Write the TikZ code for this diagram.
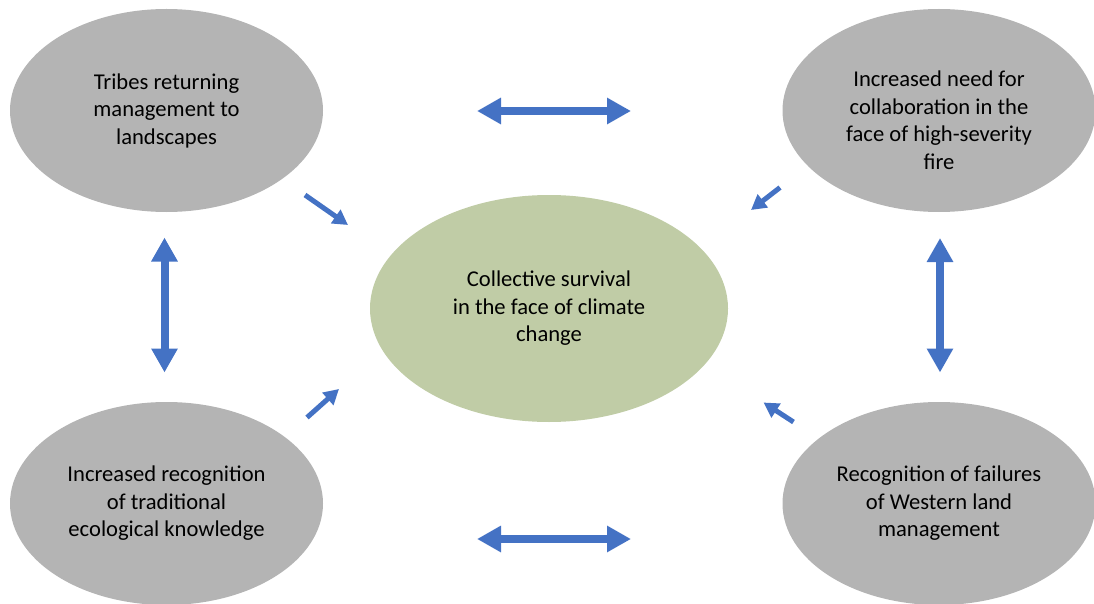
\documentclass[tikz,border=0pt]{standalone}
\usepackage{fontspec}
\setmainfont{Carlito}
\usetikzlibrary{shapes.geometric,arrows.meta}
\definecolor{bubblegray}{RGB}{180,180,180}
\definecolor{coregreen}{RGB}{192,204,166}
\definecolor{arrowblue}{RGB}{68,114,196}

\begin{document}
\begin{tikzpicture}[x=1pt, y=-1pt,
  bubble/.style={ellipse, fill=bubblegray, minimum width=313pt, minimum height=203pt, inner sep=0pt, align=center, font=\fontsize{22.6}{27.5}\selectfont},
  core/.style={ellipse, fill=coregreen, minimum width=358pt, minimum height=227pt, inner sep=0pt, align=center, font=\fontsize{22.6}{27.5}\selectfont},
  txt/.style={align=center, inner sep=0pt, font=\fontsize{22.6}{27.5}\selectfont},
  link/.style={draw=arrowblue, line width=8pt, {Triangle[width=25pt,length=24pt]}-{Triangle[width=25pt,length=24pt]}},
  feed/.style={draw=arrowblue, line width=5pt, -{Triangle[width=16pt,length=15pt]}}]
\useasboundingbox (0,0) rectangle (1094,604);
% the five ovals
\node[bubble] (tribes) at (166.5,110.5) {Tribes returning\\management to\\landscapes};
\node[bubble] (collab) at (939,110.5) {};
\node[txt] (collabtext) at (939,120) {Increased need for\\collaboration in the\\face of high-severity\\fire};
\node[core] (survival) at (549,308.5) {Collective survival\\in the face of climate\\change};
\node[bubble] (tek) at (166.5,503.5) {Increased recognition\\of traditional\\ecological knowledge};
\node[bubble] (western) at (939,503.5) {Recognition of failures\\of Western land\\management};
% double arrows between the outer ovals
\coordinate (tl) at (477,111);
\coordinate (tr) at (631,111);
\coordinate (bl) at (477,539);
\coordinate (br) at (631,539);
\coordinate (lt) at (164.5,237.5);
\coordinate (lb) at (164.5,372.5);
\coordinate (rt) at (940,238);
\coordinate (rb) at (940,372.5);
\draw[link] (tl) -- (tr);
\draw[link] (bl) -- (br);
\draw[link] (lt) -- (lb);
\draw[link] (rt) -- (rb);
% arrows into the centre
\coordinate (f1) at (305,195);
\coordinate (t1) at (348,225);
\coordinate (f2) at (780,187.5);
\coordinate (t2) at (751,210);
\coordinate (f3) at (307,417.5);
\coordinate (t3) at (339,389);
\coordinate (f4) at (793.5,422);
\coordinate (t4) at (763.5,402.5);
\draw[feed] (f1) -- (t1);
\draw[feed] (f2) -- (t2);
\draw[feed] (f3) -- (t3);
\draw[feed] (f4) -- (t4);
\end{tikzpicture}
\end{document}
